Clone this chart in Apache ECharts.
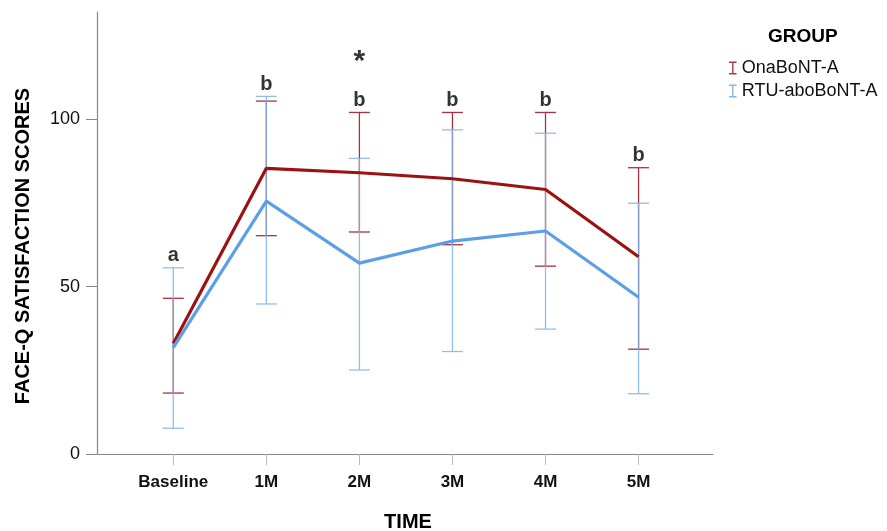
<!DOCTYPE html>
<html>
<head>
<meta charset="utf-8">
<script src="https://cdn.jsdelivr.net/npm/echarts@6/dist/echarts.min.js"></script>
<style>html,body{margin:0;padding:0;background:#fff}#c{width:887px;height:531px}</style>
</head>
<body>
<div id="c"></div>
<script>
var categories = ['Baseline', '1M', '2M', '3M', '4M', '5M'];
var yTicks = [0, 50, 100];
var onaMean  = [33.0, 85.3, 84.0, 82.2, 79.0, 58.9];
var onaUpper = [46.5, 105.4, 102.0, 102.0, 102.0, 85.5];
var onaLower = [18.2, 65.2, 66.3, 62.5, 56.1, 31.3];
var rtuMean  = [31.8, 75.5, 57.0, 63.6, 66.6, 46.8];
var rtuUpper = [55.6, 106.8, 88.3, 96.8, 95.8, 74.9];
var rtuLower = [7.7, 44.8, 25.1, 30.6, 37.3, 18.0];
var sigLetters = ['a', 'b', 'b', 'b', 'b', 'b'];
var starIndex = 2;
var starValue = 117;

var FONT = "'Liberation Sans', Arial, sans-serif";
var idx = categories.map(function (c, i) { return i; });

function errData(lo, hi) {
  return idx.map(function (i) { return [i, lo[i], hi[i]]; });
}
function errRender(color, opacity) {
  return function (params, api) {
    var x = api.value(0);
    var lo = api.coord([x, api.value(1)]);
    var hi = api.coord([x, api.value(2)]);
    var hw = 10.5;
    var st = { stroke: color, lineWidth: 1.3, opacity: opacity };
    return {
      type: 'group',
      children: [
        { type: 'line', shape: { x1: lo[0], y1: lo[1], x2: hi[0], y2: hi[1] }, style: st },
        { type: 'line', shape: { x1: lo[0] - hw, y1: lo[1], x2: lo[0] + hw, y2: lo[1] }, style: st },
        { type: 'line', shape: { x1: hi[0] - hw, y1: hi[1], x2: hi[0] + hw, y2: hi[1] }, style: st }
      ]
    };
  };
}

var iconI = 'path://M0,0H7V1.3H4.15V10.7H7V12H0V10.7H2.85V1.3H0Z';
var chart = echarts.init(document.getElementById('c'));
chart.setOption({
  animation: false,
  backgroundColor: '#fff',
  title: {
    text: 'GROUP', left: 763, top: 22,
    textStyle: { fontFamily: FONT, fontSize: 19, fontWeight: 'bold', color: '#000' }
  },
  legend: {
    orient: 'vertical', left: 724, top: 54, itemWidth: 8, itemHeight: 13, itemGap: 5,
    textStyle: { fontFamily: FONT, fontSize: 18, color: '#111' },
    data: [
      { name: 'OnaBoNT-A', icon: iconI, itemStyle: { color: '#b03a48' } },
      { name: 'RTU-aboBoNT-A', icon: iconI, itemStyle: { color: '#86b6e6' } }
    ]
  },
  grid: { left: 97, right: 174, top: 12, bottom: 77, containLabel: false, outerBoundsMode: 'none' },
  xAxis: {
    type: 'value', min: -0.82, max: 5.8,
    name: 'TIME', nameLocation: 'middle', nameGap: 58,
    nameTextStyle: { fontFamily: FONT, fontSize: 20, fontWeight: 'bold', color: '#000', padding: [0, 0, 0, 6] },
    axisLine: { onZero: false, lineStyle: { color: '#888', width: 1.2 } },
    axisTick: { show: true, customValues: idx, length: 11, lineStyle: { color: '#bbb' } },
    axisLabel: {
      customValues: idx, margin: 20,
      formatter: function (v) { return categories[Math.round(v)]; },
      fontFamily: FONT, fontSize: 17, fontWeight: 'bold', color: '#111'
    },
    splitLine: { show: false }
  },
  yAxis: {
    type: 'value', min: 0, max: 132,
    name: 'FACE-Q SATISFACTION SCORES', nameLocation: 'middle', nameGap: 64, nameRotate: 90,
    nameTextStyle: { fontFamily: FONT, fontSize: 20, fontWeight: 'bold', color: '#000', padding: [0, 26, 0, 0] },
    axisLine: { show: true, onZero: false, lineStyle: { color: '#888', width: 1.2 } },
    axisTick: { show: true, customValues: yTicks, length: 11, lineStyle: { color: '#888' } },
    axisLabel: { customValues: yTicks, margin: 17, fontFamily: FONT, fontSize: 18, color: '#111' },
    splitLine: { show: false }
  },
  series: [
    { type: 'custom', name: 'errOna', data: errData(onaLower, onaUpper), renderItem: errRender('#a8323f', 1), z: 2, silent: true },
    { type: 'custom', name: 'errRtu', data: errData(rtuLower, rtuUpper), renderItem: errRender('#7fb3e8', 0.85), z: 2, silent: true },
    {
      type: 'line', name: 'OnaBoNT-A', data: idx.map(function (i) { return [i, onaMean[i]]; }),
      symbol: 'none', lineStyle: { color: '#9b1212', width: 3.2 }, itemStyle: { color: '#9b1212' }, z: 3
    },
    {
      type: 'line', name: 'RTU-aboBoNT-A', data: idx.map(function (i) { return [i, rtuMean[i]]; }),
      symbol: 'none', lineStyle: { color: '#5d9fe6', width: 3.2 }, itemStyle: { color: '#5d9fe6' }, z: 3
    },
    {
      type: 'scatter', name: 'letters', symbolSize: 0, silent: true, z: 4,
      data: idx.map(function (i) { return [i, Math.max(onaUpper[i], rtuUpper[i])]; }),
      label: {
        show: true, position: 'top', distance: 2,
        formatter: function (p) { return sigLetters[p.dataIndex]; },
        fontFamily: FONT, fontSize: 20, fontWeight: 'bold', color: '#000'
      }
    },
    {
      type: 'scatter', name: 'star', symbolSize: 0, silent: true, z: 4,
      data: [[starIndex, starValue]],
      label: {
        show: true, position: 'inside', formatter: '*',
        fontFamily: FONT, fontSize: 30, fontWeight: 'bold', color: '#000'
      }
    }
  ]
});
</script>
</body>
</html>
